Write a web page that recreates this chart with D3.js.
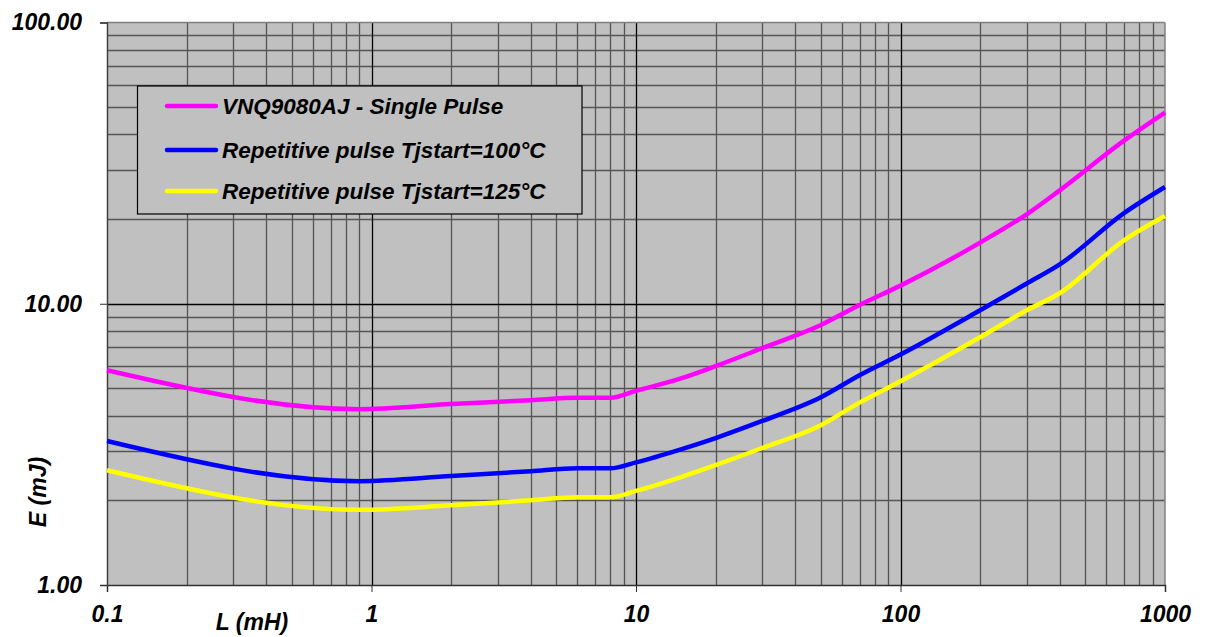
<!DOCTYPE html>
<html>
<head>
<meta charset="utf-8">
<script src="https://cdn.jsdelivr.net/npm/d3@7"></script>
<style>
	body { margin: 0; background: #fff; }
	text { font-family: "Liberation Sans", Arial, sans-serif; font-weight: bold; font-style: italic; }
</style>
</head>
<body>
<div id="chart"></div>
<script>
// inductance (mH) and energy (mJ)
const inductance = [0.1, 0.9, 2, 4, 6, 8, 10, 15, 20, 30, 50, 70, 100, 200, 300, 400, 700, 1000];
const singlePulse = [5.8, 4.22, 4.4, 4.54, 4.63, 4.63, 4.9, 5.45, 6.0, 6.95, 8.4, 9.9, 11.6, 16.5, 20.8, 25.3, 38, 47.8];
const rep100 = [3.25, 2.34, 2.44, 2.54, 2.6, 2.6, 2.73, 3.05, 3.33, 3.83, 4.65, 5.57, 6.6, 9.48, 11.8, 13.8, 21, 26.0];
const rep125 = [2.56, 1.85, 1.92, 2.0, 2.05, 2.05, 2.16, 2.43, 2.67, 3.07, 3.7, 4.45, 5.3, 7.6, 9.48, 10.9, 16.8, 20.5];

const seriesNames = [
	"VNQ9080AJ - Single Pulse",
	"Repetitive pulse Tjstart=100°C",
	"Repetitive pulse Tjstart=125°C",
];
const seriesColors = ["#ff00ff", "#0000ff", "#ffff00"];
const seriesValues = [singlePulse, rep100, rep125];

const xTicks = [0.1, 1, 10, 100, 1000];
const xTickLabels = ["0.1", "1", "10", "100", "1000"];
const yTicks = [1, 10, 100];
const yTickLabels = ["1.00", "10.00", "100.00"];

const width = 1208;
const height = 637;

const svg = d3
	.select("#chart")
	.append("svg")
	.attr("width", width)
	.attr("height", height);

const x = d3.scaleLog().domain([0.1, 1000]).range([107, 1165]);
const y = d3.scaleLog().domain([1, 100]).range([585, 22.5]);

// plot background
svg.append("rect")
	.attr("x", x(0.1))
	.attr("y", y(100))
	.attr("width", x(1000) - x(0.1))
	.attr("height", y(1) - y(100))
	.attr("fill", "#c0c0c0");

// minor grid
const xMinor = [];
const yMinor = [];
[0.1, 1, 10, 100].forEach((d) => {
	for (let k = 2; k <= 9; k++) xMinor.push(d * k);
});
[1, 10].forEach((d) => {
	for (let k = 2; k <= 9; k++) yMinor.push(d * k);
});

svg.append("g")
	.selectAll("line")
	.data(xMinor)
	.enter()
	.append("line")
	.attr("x1", (d) => Math.round(x(d)) + 0.5)
	.attr("x2", (d) => Math.round(x(d)) + 0.5)
	.attr("y1", y(100))
	.attr("y2", y(1))
	.attr("stroke", "#555")
	.attr("stroke-width", 1.3);

svg.append("g")
	.selectAll("line")
	.data(yMinor)
	.enter()
	.append("line")
	.attr("x1", x(0.1))
	.attr("x2", x(1000))
	.attr("y1", (d) => Math.round(y(d)) + 0.5)
	.attr("y2", (d) => Math.round(y(d)) + 0.5)
	.attr("stroke", "#555")
	.attr("stroke-width", 1.3);

// major grid
svg.append("g")
	.selectAll("line")
	.data(xTicks.slice(1, -1))
	.enter()
	.append("line")
	.attr("x1", (d) => Math.round(x(d)) + 0.5)
	.attr("x2", (d) => Math.round(x(d)) + 0.5)
	.attr("y1", y(100))
	.attr("y2", y(1))
	.attr("stroke", "#000")
	.attr("stroke-width", 1.3);

svg.append("g")
	.selectAll("line")
	.data(yTicks.slice(1, -1))
	.enter()
	.append("line")
	.attr("x1", x(0.1))
	.attr("x2", x(1000))
	.attr("y1", (d) => Math.round(y(d)) + 0.5)
	.attr("y2", (d) => Math.round(y(d)) + 0.5)
	.attr("stroke", "#000")
	.attr("stroke-width", 1.3);

// frame
svg.append("line")
	.attr("x1", x(0.1)).attr("x2", x(1000))
	.attr("y1", y(100)).attr("y2", y(100))
	.attr("stroke", "#808080").attr("stroke-width", 1.5);
svg.append("line")
	.attr("x1", x(1000)).attr("x2", x(1000))
	.attr("y1", y(100)).attr("y2", y(1))
	.attr("stroke", "#808080").attr("stroke-width", 1.5);

// axes
const xAxis = d3
	.axisBottom(x)
	.tickValues(xTicks)
	.tickFormat((d, i) => xTickLabels[i])
	.tickSize(7)
	.tickPadding(14);

const gx = svg.append("g")
	.attr("transform", `translate(0, ${y(1)})`)
	.call(xAxis);
gx.select(".domain").attr("stroke", "#303030").attr("stroke-width", 1.5);
gx.selectAll(".tick line").attr("stroke", "#303030");
gx.selectAll("text").attr("font-size", 23).attr("fill", "#000").attr("font-family", null);

const yAxis = d3
	.axisLeft(y)
	.tickValues(yTicks)
	.tickFormat((d, i) => yTickLabels[i])
	.tickSize(7)
	.tickPadding(18);

const gy = svg.append("g")
	.attr("transform", `translate(${x(0.1)}, 0)`)
	.call(yAxis);
gy.select(".domain").attr("stroke", "#404040").attr("stroke-width", 1.5);
gy.selectAll(".tick line").attr("stroke", "#303030");
gy.selectAll("text").attr("font-size", 23).attr("fill", "#000").attr("font-family", null);

// axis titles
svg.append("text")
	.attr("x", 252)
	.attr("y", 630)
	.attr("text-anchor", "middle")
	.attr("font-size", 23)
	.text("L (mH)");

svg.append("text")
	.attr("transform", "translate(46, 492) rotate(-90)")
	.attr("text-anchor", "middle")
	.attr("font-size", 23)
	.text("E (mJ)");

// curves
const line = d3
	.line()
	.x((d) => x(d[0]))
	.y((d) => y(d[1]))
	.curve(d3.curveMonotoneX);

svg.append("g")
	.selectAll("path")
	.data(seriesValues)
	.enter()
	.append("path")
	.attr("d", (vals) => line(inductance.map((l, i) => [l, vals[i]])))
	.attr("fill", "none")
	.attr("stroke", (d, i) => seriesColors[i])
	.attr("stroke-width", 4.5)
	.attr("stroke-linejoin", "round");

// legend
const legend = svg.append("g");
legend.append("rect")
	.attr("x", 137.5)
	.attr("y", 86)
	.attr("width", 444.5)
	.attr("height", 128)
	.attr("fill", "#c0c0c0")
	.attr("stroke", "#000")
	.attr("stroke-width", 1.2);

const legendRows = [106, 150, 191];

legend.selectAll("line.key")
	.data(seriesNames)
	.enter()
	.append("line")
	.attr("class", "key")
	.attr("x1", 167)
	.attr("x2", 216)
	.attr("y1", (d, i) => legendRows[i])
	.attr("y2", (d, i) => legendRows[i])
	.attr("stroke", (d, i) => seriesColors[i])
	.attr("stroke-width", 4.5)
	.attr("stroke-linecap", "round");

legend.selectAll("text")
	.data(seriesNames)
	.enter()
	.append("text")
	.attr("x", 222)
	.attr("y", (d, i) => legendRows[i] + 8)
	.attr("font-size", 22.5)
	.text((d) => d);
</script>
</body>
</html>
